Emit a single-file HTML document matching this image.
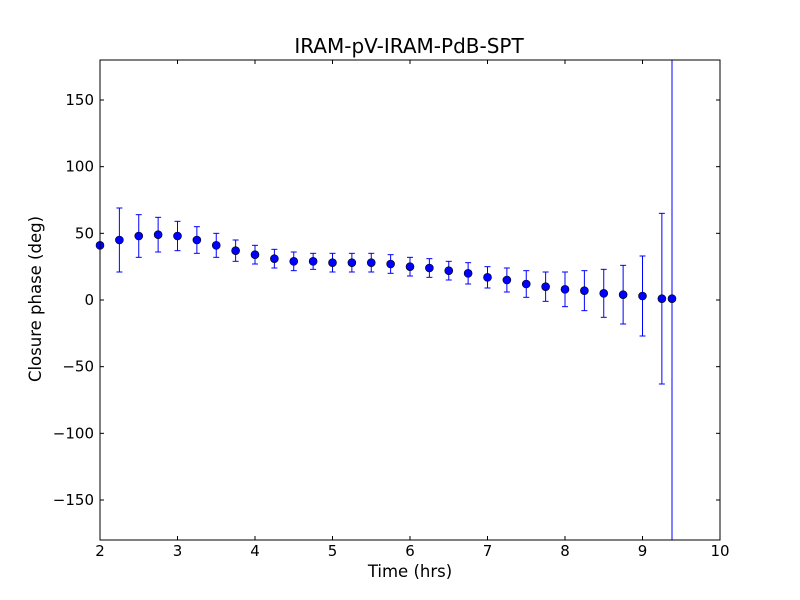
<!DOCTYPE html>
<html><head><meta charset="utf-8"><style>
html,body{margin:0;padding:0;background:#fff;}
svg{display:block;font-family:"DejaVu Sans","Liberation Sans",sans-serif;}
</style></head><body>
<svg id="s" width="800" height="600" viewBox="0 0 800 600" xmlns="http://www.w3.org/2000/svg">
<rect width="800" height="600" fill="#fff"/>
<g id="data"></g>
<rect x="100" y="60" width="620" height="480" fill="none" stroke="#000" stroke-width="1"/>
<g id="ticks" stroke="#000" stroke-width="1"></g>
<g id="labels" font-size="15" fill="#000"></g>
<text x="409" y="53" font-size="20" text-anchor="middle">IRAM-pV-IRAM-PdB-SPT</text>
<text x="410" y="577" font-size="16.5" text-anchor="middle">Time (hrs)</text>
<text x="41" y="299" font-size="16.5" text-anchor="middle" transform="rotate(-90 41 299)">Closure phase (deg)</text>
</svg>
<script>
var NS="http://www.w3.org/2000/svg";
function el(p,n,a,t){var e=document.createElementNS(NS,n);for(var k in a)e.setAttribute(k,a[k]);if(t!==undefined)e.textContent=t;p.appendChild(e);return e;}
function X(t){return 100+(t-2)*77.5;}
function Y(v){return 300-v*4/3;}
var tk=document.getElementById('ticks'),lb=document.getElementById('labels'),dg=document.getElementById('data');
for(var t=2;t<=10;t++){var x=X(t);
 el(tk,'line',{x1:x,y1:540,x2:x,y2:536});el(tk,'line',{x1:x,y1:60,x2:x,y2:64});
 el(lb,'text',{x:x,y:556,'text-anchor':'middle'},String(t));}
for(var v=-150;v<=150;v+=50){var y=Y(v);
 el(tk,'line',{x1:100,y1:y,x2:104,y2:y});el(tk,'line',{x1:720,y1:y,x2:716,y2:y});
 el(lb,'text',{x:94,y:y+5,'text-anchor':'end'},(v<0?'\u2212'+(-v):String(v)));}
var d=[[2.0,41,0],[2.25,45,24],[2.5,48,16],[2.75,49,13],[3.0,48,11],[3.25,45,10],[3.5,41,9],[3.75,37,8],[4.0,34,7],[4.25,31,7],[4.5,29,7],[4.75,29,6],[5.0,28,7],[5.25,28,7],[5.5,28,7],[5.75,27,7],[6.0,25,7],[6.25,24,7],[6.5,22,7],[6.75,20,8],[7.0,17,8],[7.25,15,9],[7.5,12,10],[7.75,10,11],[8.0,8,13],[8.25,7,15],[8.5,5,18],[8.75,4,22],[9.0,3,30],[9.25,1,64]];
d.forEach(function(p){var x=X(p[0]);if(p[2]>0){var y1=Y(p[1]+p[2]),y2=Y(p[1]-p[2]);
 el(dg,'line',{x1:x,y1:y1,x2:x,y2:y2,stroke:'#0000ff','stroke-width':1});
 el(dg,'line',{x1:x-3,y1:y1,x2:x+3,y2:y1,stroke:'#0000ff','stroke-width':1});
 el(dg,'line',{x1:x-3,y1:y2,x2:x+3,y2:y2,stroke:'#0000ff','stroke-width':1});}});
el(dg,'line',{x1:672,y1:60,x2:672,y2:540,stroke:'#0000ff','stroke-width':1});
d.concat([[9.38,1,0]]).forEach(function(p){var x=p[0]==9.38?672:X(p[0]);
 el(dg,'circle',{cx:x,cy:Y(p[1]),r:4,fill:'#0000ff',stroke:'#000','stroke-width':0.6});});
</script>
</body></html>
